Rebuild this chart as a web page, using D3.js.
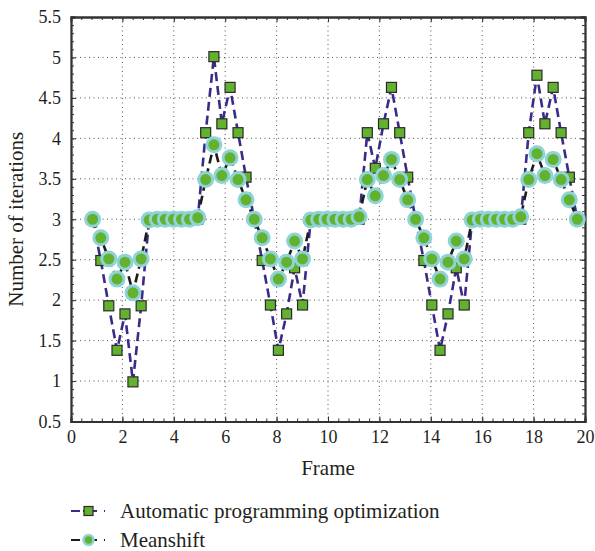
<!DOCTYPE html>
<html>
<head>
<meta charset="utf-8">
<script src="https://cdn.jsdelivr.net/npm/d3@7"></script>
<style>
  html, body { margin: 0; padding: 0; background: #fff; }
  svg { display: block; }
  text { font-family: "Liberation Serif", "DejaVu Serif", serif; fill: #231f20; }
</style>
</head>
<body>
<svg id="chart" width="595" height="551"></svg>
<script>
// ---- data ----
const frames = [0.84,1.16,1.47,1.79,2.10,2.41,2.73,3.04,3.36,3.67,3.99,4.30,4.61,4.93,
  5.24,5.56,5.87,6.19,6.50,6.81,7.13,7.44,7.76,8.07,8.39,8.70,9.01,9.33,9.64,9.96,
  10.27,10.59,10.90,11.21,11.53,11.84,12.16,12.47,12.79,13.10,13.41,13.73,14.04,14.36,
  14.67,14.99,15.30,15.61,15.93,16.24,16.56,16.87,17.19,17.50,17.81,18.13,18.44,18.76,
  19.07,19.39,19.70];

const apoValues = [3.0,2.49,1.93,1.38,1.83,0.99,1.93,3.0,3.0,3.0,3.0,3.0,3.0,3.0,
  4.07,5.01,4.18,4.63,4.07,3.52,3.0,2.49,1.94,1.38,1.83,2.40,1.94,3.0,3.0,3.0,
  3.0,3.0,3.0,3.0,4.07,3.63,4.18,4.63,4.07,3.52,3.0,2.49,1.94,1.38,
  1.83,2.40,1.94,3.0,3.0,3.0,3.0,3.0,3.0,3.0,4.07,4.78,4.18,4.63,
  4.07,3.52,3.0];

const meanshiftValues = [3.0,2.77,2.51,2.26,2.47,2.09,2.51,2.99,3.0,3.0,3.0,3.0,3.0,3.02,
  3.49,3.92,3.54,3.76,3.49,3.24,3.0,2.77,2.51,2.26,2.47,2.73,2.51,2.99,3.0,3.0,
  3.0,3.0,3.0,3.03,3.49,3.29,3.54,3.74,3.49,3.24,3.0,2.77,2.51,2.26,
  2.47,2.73,2.51,2.99,3.0,3.0,3.0,3.0,3.0,3.03,3.49,3.81,3.54,3.74,
  3.49,3.24,3.0];

const seriesNames = ["Automatic programming optimization", "Meanshift"];
const xTicks = [0,2,4,6,8,10,12,14,16,18,20];
const yTicks = [0.5,1,1.5,2,2.5,3,3.5,4,4.5,5,5.5];
const xLabel = "Frame";
const yLabel = "Number of iterations";

// ---- layout ----
const svg = d3.select("#chart");
const L = 71, R = 585, T = 17, B = 421.5;
const x = d3.scaleLinear().domain([0, 20]).range([L, R]);
const y = d3.scaleLinear().domain([0.5, 5.5]).range([B, T]);

const axisColor = "#333";
const blue = "#3b2a88";
const black = "#1c1c1c";
const green = "#62b22f";
const cyan = "#8fd3d7";

// grid (dotted)
const grid = svg.append("g");
grid.selectAll(".gx").data(xTicks.slice(1, -1)).enter().append("line")
  .attr("x1", d => x(d)).attr("x2", d => x(d)).attr("y1", T).attr("y2", B)
  .attr("stroke", "#555").attr("stroke-width", 1).attr("stroke-dasharray", "1,3.5");
grid.selectAll(".gy").data(yTicks.slice(1, -1)).enter().append("line")
  .attr("y1", d => y(d)).attr("y2", d => y(d)).attr("x1", L).attr("x2", R)
  .attr("stroke", "#555").attr("stroke-width", 1).attr("stroke-dasharray", "1,3.5");

// axes with inward ticks (bottom/left labelled, top/right mirrored)
const xMinor = d3.range(0, 20.001, 0.4);
const yMinor = d3.range(0.5, 5.5001, 0.1);
function minorAxis(axisFn, scale, vals) {
  return axisFn(scale).tickValues(vals).tickSize(-3).tickFormat("");
}
const gb = svg.append("g").attr("transform", `translate(0,${B})`)
  .call(d3.axisBottom(x).tickValues(xTicks).tickSize(-5).tickPadding(9).tickFormat(d3.format("d")));
const gbm = svg.append("g").attr("transform", `translate(0,${B})`).call(minorAxis(d3.axisBottom, x, xMinor));
const gt = svg.append("g").attr("transform", `translate(0,${T})`)
  .call(d3.axisTop(x).tickValues(xTicks).tickSize(-5).tickFormat(""));
const gtm = svg.append("g").attr("transform", `translate(0,${T})`).call(minorAxis(d3.axisTop, x, xMinor));
const gl = svg.append("g").attr("transform", `translate(${L},0)`)
  .call(d3.axisLeft(y).tickValues(yTicks).tickSize(-5).tickPadding(10).tickFormat(d => d3.format("")(d)));
const glm = svg.append("g").attr("transform", `translate(${L},0)`).call(minorAxis(d3.axisLeft, y, yMinor));
const gr = svg.append("g").attr("transform", `translate(${R},0)`)
  .call(d3.axisRight(y).tickValues(yTicks).tickSize(-5).tickFormat(""));
const grm = svg.append("g").attr("transform", `translate(${R},0)`).call(minorAxis(d3.axisRight, y, yMinor));

[gb, gbm, gt, gtm, gl, glm, gr, grm].forEach(g => {
  g.select(".domain").attr("stroke", axisColor).attr("stroke-width", 1.8);
  g.selectAll(".tick line").attr("stroke", axisColor).attr("stroke-width", 1);
  g.selectAll(".tick text").attr("font-size", 18).attr("font-family", "Liberation Serif, serif").attr("fill", "#231f20");
});

// axis titles
svg.append("text").attr("x", x(10)).attr("y", 475).attr("text-anchor", "middle")
  .attr("font-size", 21).text(xLabel);
svg.append("text").attr("transform", `translate(23,${(T + B) / 2}) rotate(-90)`)
  .attr("text-anchor", "middle").attr("font-size", 21).text(yLabel);

// series
const pts1 = frames.map((f, i) => [f, apoValues[i]]);
const pts2 = frames.map((f, i) => [f, meanshiftValues[i]]);
const line = d3.line().x(d => x(d[0])).y(d => y(d[1]));

svg.append("path").datum(pts1).attr("d", line).attr("fill", "none")
  .attr("stroke", blue).attr("stroke-width", 2.6).attr("stroke-dasharray", "9,5");
svg.append("g").selectAll("rect").data(pts1).enter().append("rect")
  .attr("x", d => x(d[0]) - 5).attr("y", d => y(d[1]) - 5)
  .attr("width", 10).attr("height", 10)
  .attr("fill", green).attr("stroke", "#2b2b2b").attr("stroke-width", 1.2);

svg.append("path").datum(pts2).attr("d", line).attr("fill", "none")
  .attr("stroke", black).attr("stroke-width", 2.6).attr("stroke-dasharray", "9,5");
svg.append("g").selectAll("circle").data(pts2).enter().append("circle")
  .attr("cx", d => x(d[0])).attr("cy", d => y(d[1])).attr("r", 7)
  .attr("fill", green).attr("stroke", cyan).attr("stroke-width", 3);

// legend
const leg = svg.append("g");
const legY = [511, 540];
leg.append("line").attr("x1", 71).attr("x2", 106).attr("y1", legY[0]).attr("y2", legY[0])
  .attr("stroke", blue).attr("stroke-width", 2).attr("stroke-dasharray", "9,3,14,7,1");
leg.append("rect").attr("x", 84).attr("y", legY[0] - 4.5).attr("width", 9).attr("height", 9)
  .attr("fill", green).attr("stroke", "#2b2b2b").attr("stroke-width", 1.2);
leg.append("line").attr("x1", 71).attr("x2", 106).attr("y1", legY[1]).attr("y2", legY[1])
  .attr("stroke", black).attr("stroke-width", 2).attr("stroke-dasharray", "9,3,14,7,1");
leg.append("circle").attr("cx", 88.5).attr("cy", legY[1]).attr("r", 5)
  .attr("fill", green).attr("stroke", cyan).attr("stroke-width", 2.5);
seriesNames.forEach((n, i) => {
  leg.append("text").attr("x", 120).attr("y", legY[i]).attr("dy", "0.33em")
    .attr("font-size", 21).text(n);
});
</script>
</body>
</html>
